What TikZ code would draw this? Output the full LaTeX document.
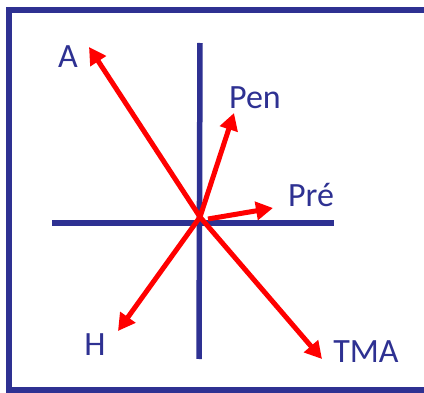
\documentclass[tikz,border=0pt]{standalone}
\usepackage{fontspec}
\setmainfont{Carlito}
\usetikzlibrary{arrows.meta}
\definecolor{axisblue}{RGB}{46,49,146}
\definecolor{vecred}{RGB}{255,0,0}
\begin{document}
\begin{tikzpicture}[x=1pt,y=1pt,
  axisline/.style={draw=axisblue,line width=5.5pt},
  vec/.style={draw=vecred,line width=5pt,-{Triangle[length=17pt,width=18pt]}},
  lbl/.style={text=axisblue,font=\fontsize{34}{38}\selectfont,inner sep=0pt}]
\useasboundingbox (0,0) rectangle (424,392);
\clip (0,0) rectangle (424,392);
\fill[white] (0,0) rectangle (424,392);
\draw[axisline] (9,382) rectangle (440,2);
% axes
\coordinate (vtop) at (200,349);
\coordinate (vbot) at (199,33);
\coordinate (hleft) at (52,169);
\coordinate (hright) at (334,169);
\draw[axisline] (vtop) -- (vbot);
\draw[axisline] (hleft) -- (hright);
% vectors
\coordinate (O) at (200,175);
\coordinate (O2) at (208,173);
\coordinate (tA) at (89,345);
\coordinate (tPen) at (234,279);
\coordinate (tPre) at (273,184);
\coordinate (tH) at (118,61);
\coordinate (tTMA) at (322,33);
\draw[vec] (O) -- (tA);
\draw[vec] (O) -- (tPen);
\draw[vec] (O2) -- (tPre);
\draw[vec] (O) -- (tH);
\draw[vec] (O) -- (tTMA);
% labels
\node[lbl] (lA) at (68,335) {A};
\node[lbl] (lPen) at (255,294) {Pen};
\node[lbl] (lPre) at (311,197) {Pré};
\node[lbl] (lH) at (95,47) {H};
\node[lbl] (lTMA) at (366,40) {TMA};
\end{tikzpicture}
\end{document}
